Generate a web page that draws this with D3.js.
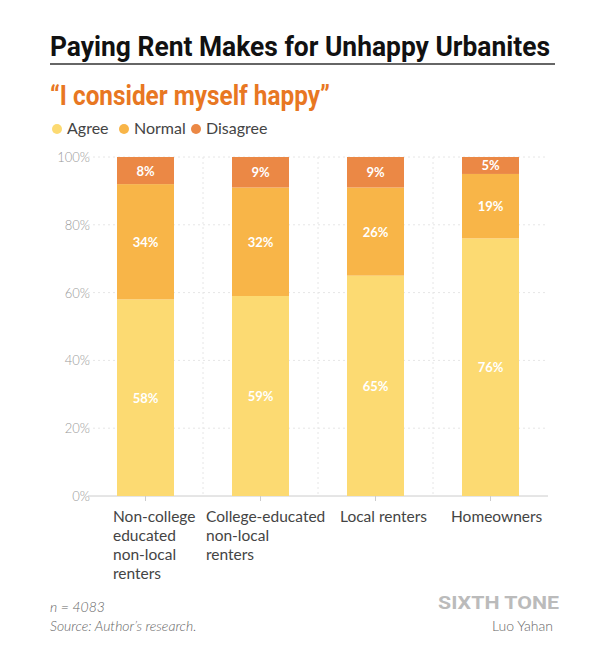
<!DOCTYPE html>
<html><head><meta charset="utf-8">
<script src="https://cdn.jsdelivr.net/npm/d3@7"></script>
<style>body{margin:0;background:#fff}</style>
</head><body><div id="chart"></div>
<script>
var categories = ["Non-college educated non-local renters", "College-educated non-local renters", "Local renters", "Homeowners"];
var catLines = [["Non-college","educated","non-local","renters"],["College-educated","non-local","renters"],["Local renters"],["Homeowners"]];
var seriesNames = ["Agree", "Normal", "Disagree"];
var agree = [58, 59, 65, 76];
var normal = [34, 32, 26, 19];
var disagree = [8, 9, 9, 5];
var yTicks = [0, 20, 40, 60, 80, 100];
var colors = ["#FCDA72", "#F8B548", "#EB8845"];

var svg = d3.select("#chart").append("svg").attr("width", 616).attr("height", 646);
var cond = "'Roboto', sans-serif";

svg.append("text").attr("x", 50).attr("y", 56).text("Paying Rent Makes for Unhappy Urbanites")
  .attr("font-family", cond).attr("font-weight", "bold").attr("font-size", "28px").attr("fill", "#111")
  .attr("textLength", 500).attr("lengthAdjust", "spacingAndGlyphs");
svg.append("line").attr("x1", 50).attr("x2", 555).attr("y1", 64).attr("y2", 64).attr("stroke", "#333").attr("stroke-width", 1.5);
svg.append("text").attr("x", 50).attr("y", 105).text("\u201CI consider myself happy\u201D")
  .attr("font-family", cond).attr("font-weight", "bold").attr("font-size", "27px").attr("fill", "#E87722")
  .attr("textLength", 280).attr("lengthAdjust", "spacingAndGlyphs");

// legend
var lx = [57, 124, 196];
seriesNames.forEach(function(s, i) {
  svg.append("circle").attr("cx", lx[i]).attr("cy", 129).attr("r", 5).attr("fill", colors[i]);
  svg.append("text").attr("x", lx[i] + 10).attr("y", 134).text(s)
    .attr("font-family", "Lato, sans-serif").attr("font-size", "16px").attr("fill", "#444");
});

var x = d3.scaleBand().domain(categories).range([88, 548]).paddingInner(0).paddingOuter(0);
var y = d3.scaleLinear().domain([0, 100]).range([496, 157]);

var g = svg.append("g");
// grid
yTicks.forEach(function(t) {
  g.append("line").attr("x1", 88).attr("x2", 548).attr("y1", y(t)).attr("y2", y(t))
    .attr("stroke", t === 0 ? "#ccc" : "#e6e6e6").attr("stroke-dasharray", t === 0 ? null : "2,3");
  g.append("text").attr("x", 90).attr("y", y(t) + 5).attr("text-anchor", "end").text(t + "%")
    .attr("font-family", "Lato, sans-serif").attr("font-weight", 300).attr("font-size", "13px").attr("fill", "#999");
});
categories.slice(1).forEach(function(c) {
  g.append("line").attr("x1", x(c)).attr("x2", x(c)).attr("y1", y(100)).attr("y2", y(0))
    .attr("stroke", "#e6e6e6").attr("stroke-dasharray", "2,3");
});
categories.forEach(function(c) {
  g.append("line").attr("x1", x(c) + x.bandwidth() / 2).attr("x2", x(c) + x.bandwidth() / 2)
    .attr("y1", y(0)).attr("y2", y(0) + 5).attr("stroke", "#ccc");
});

var rows = categories.map(function(c, i) { return {cat: c, Agree: agree[i], Normal: normal[i], Disagree: disagree[i]}; });
var stack = d3.stack().keys(seriesNames)(rows);
var bw = 57;
stack.forEach(function(layer, li) {
  layer.forEach(function(d) {
    var cx = x(d.data.cat) + x.bandwidth() / 2;
    g.append("rect").attr("x", cx - bw / 2).attr("width", bw)
      .attr("y", y(d[1])).attr("height", y(d[0]) - y(d[1])).attr("fill", colors[li]);
    g.append("text").attr("x", cx).attr("y", (y(d[0]) + y(d[1])) / 2 + 5).attr("text-anchor", "middle")
      .text((d[1] - d[0]) + "%").attr("font-family", "Lato, sans-serif").attr("font-weight", "bold")
      .attr("font-size", "13px").attr("fill", "#fff");
  });
});

// category labels
var labelX = [25, 3, 22, 18];
categories.forEach(function(c, i) {
  var t = g.append("text").attr("x", x(c) + labelX[i]).attr("y", 522)
    .attr("font-family", "Lato, sans-serif").attr("font-size", "15.5px").attr("fill", "#444");
  catLines[i].forEach(function(l, j) {
    t.append("tspan").attr("x", t.attr("x")).attr("dy", j === 0 ? 0 : 19).text(l);
  });
});

var foot = "Lato, sans-serif";
svg.append("text").attr("x", 50).attr("y", 612).text("n = 4083")
  .attr("font-family", foot).attr("font-style", "italic").attr("font-weight", 300).attr("font-size", "14px").attr("fill", "#666");
svg.append("text").attr("x", 50).attr("y", 631).text("Source: Author\u2019s research.")
  .attr("font-family", foot).attr("font-style", "italic").attr("font-weight", 300).attr("font-size", "14px").attr("fill", "#666");
svg.append("text").attr("x", 438).attr("y", 609).text("SIXTH TONE")
  .attr("font-family", "Roboto, sans-serif").attr("font-weight", "bold").attr("font-size", "18px").attr("fill", "#bbb")
  .attr("textLength", 121).attr("lengthAdjust", "spacingAndGlyphs");
svg.append("text").attr("x", 553).attr("y", 631).attr("text-anchor", "end").text("Luo Yahan")
  .attr("font-family", foot).attr("font-weight", 300).attr("font-size", "14px").attr("fill", "#666");
</script></body></html>
